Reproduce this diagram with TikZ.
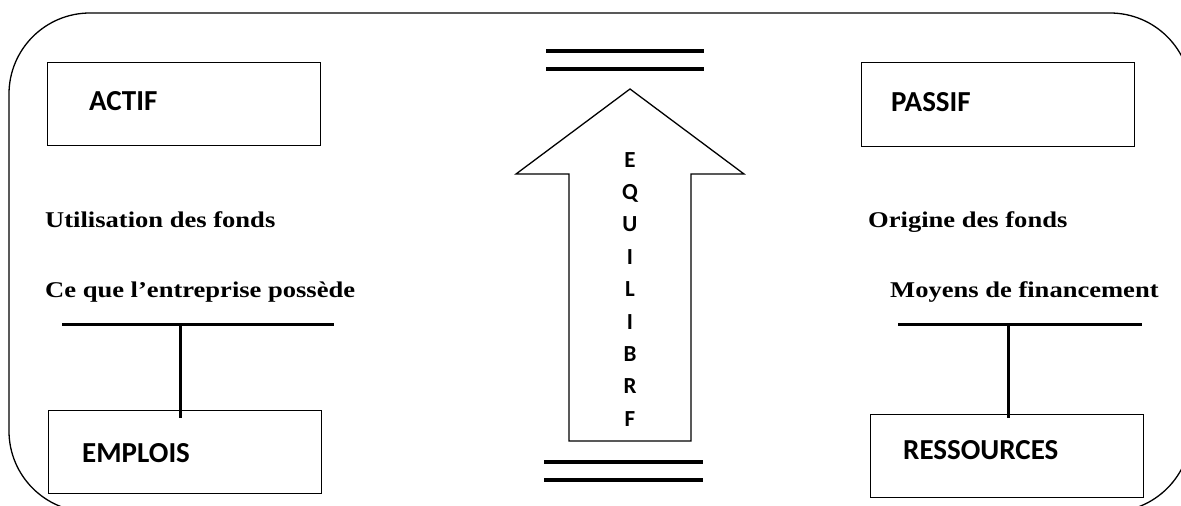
\documentclass[tikz,border=0pt]{standalone}
\usepackage{fontspec}
\setmainfont{Liberation Serif}
\newfontfamily\boxfont{Carlito}
\begin{document}
\begin{tikzpicture}[x=1pt,y=-1pt,
  frame/.style={line width=1.3pt},
  boxnode/.style={draw, line width=1.4pt, inner sep=0pt, anchor=north west},
  boxlabel/.style={anchor=base west, inner sep=0pt, font=\boxfont\bfseries\fontsize{29}{34}\selectfont},
  sidetext/.style={anchor=base west, inner sep=0pt, font=\bfseries\fontsize{22.5}{27}\selectfont},
  teeline/.style={line width=3pt},
  eqline/.style={line width=3.5pt},
  arrowshape/.style={line width=1.3pt, line join=miter},
  letter/.style={anchor=base, inner sep=0pt, font=\boxfont\bfseries\fontsize{23}{27}\selectfont}
]
\useasboundingbox (0,0) rectangle (1181,506);
\begin{scope}
  \clip (0,0) rectangle (1181,506);
  \draw[frame, rounded corners=81pt] (9,13) rectangle (1191,512);
\end{scope}

% boxes
\node[boxnode, minimum width=273pt, minimum height=83pt] (actif) at (47,62) {};
\node[boxnode, minimum width=273pt, minimum height=84pt] (passif) at (861,62) {};
\node[boxnode, minimum width=273pt, minimum height=83pt] (emplois) at (48,410) {};
\node[boxnode, minimum width=273pt, minimum height=83pt] (ressources) at (870,414) {};

\node[boxlabel] (tactif) at (89,110) {ACTIF};
\node[boxlabel] (tpassif) at (891,111) {PASSIF};
\node[boxlabel] (templois) at (82,462) {EMPLOIS};
\node[boxlabel] (tressources) at (903,459) {RESSOURCES};

% side texts
\node[sidetext] (util) at (45,227) {\scalebox{1.18}[1]{Utilisation des fonds}};
\node[sidetext] (possede) at (45,297) {\scalebox{1.18}[1]{Ce que l’entreprise possède}};
\node[sidetext] (origine) at (868,227) {\scalebox{1.18}[1]{Origine des fonds}};
\node[sidetext] (moyens) at (890,297) {\scalebox{1.18}[1]{Moyens de financement}};

% left tee
\coordinate (ltl) at (62,324);
\coordinate (ltr) at (334,324);
\coordinate (ltm) at (180,324);
\coordinate (ltb) at (180,418);
\draw[teeline] (ltl) -- (ltr);
\draw[teeline] (ltm) -- (ltb);

% right tee
\coordinate (rtl) at (898,324);
\coordinate (rtr) at (1142,324);
\coordinate (rtm) at (1008,324);
\coordinate (rtb) at (1008,418);
\draw[teeline] (rtl) -- (rtr);
\draw[teeline] (rtm) -- (rtb);

% double lines
\coordinate (ta1) at (546,51);  \coordinate (tb1) at (704,51);
\coordinate (ta2) at (546,69);  \coordinate (tb2) at (704,69);
\coordinate (ba1) at (544,462); \coordinate (bb1) at (703,462);
\coordinate (ba2) at (544,480); \coordinate (bb2) at (703,480);
\draw[eqline] (ta1) -- (tb1);
\draw[eqline] (ta2) -- (tb2);
\draw[eqline] (ba1) -- (bb1);
\draw[eqline] (ba2) -- (bb2);

% big arrow
\draw[arrowshape] (569,441) -- (569,174) -- (516,174) -- (630,89) -- (744,174) -- (691,174) -- (691,441) -- cycle;

\foreach \l [count=\i from 0] in {E,Q,U,I,L,I,B,R,F}
  \node[letter] (eq\i) at (630,167+32.4*\i) {\l};
\end{tikzpicture}
\end{document}
